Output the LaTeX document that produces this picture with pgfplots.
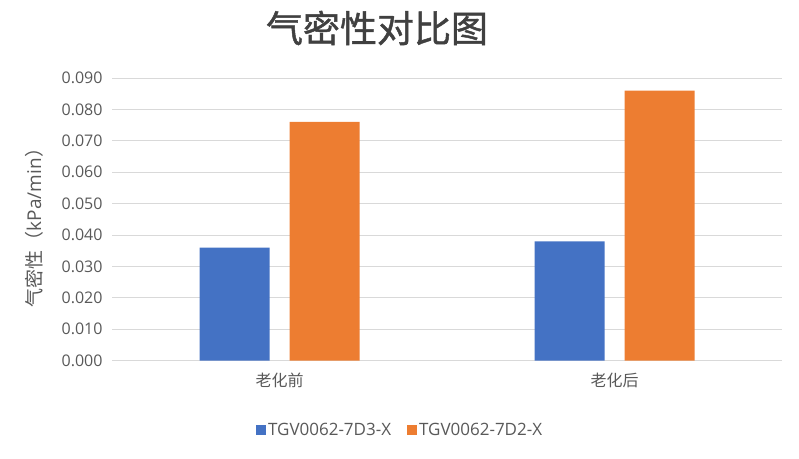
\documentclass[border=0pt]{standalone}
\usepackage{fontspec}
\setmainfont{Open Sans}
\newfontfamily\cjk{Noto Sans CJK SC}
\newfontfamily\cjkt{Noto Sans CJK SC}[FakeBold=1.2]
\usepackage{pgfplots}
\pgfplotsset{compat=1.18}
\definecolor{cblue}{HTML}{4472C4}
\definecolor{corange}{HTML}{ED7D31}
\definecolor{txt}{HTML}{595959}
\definecolor{grd}{HTML}{D9D9D9}
\begin{document}
\begin{tikzpicture}[x=1pt,y=1pt]
\path[use as bounding box] (0,0) rectangle (799,458);
\begin{axis}[
  at={(112pt,97.3pt)}, anchor=south west,
  scale only axis, width=670pt, height=282.7pt,
  xmin=-0.5, xmax=1.5, ymin=0, ymax=0.09,
  xtick={0,1}, xticklabels={{\cjk 老化前},{\cjk 老化后}},
  ytick={0,0.01,...,0.0901},
  scaled y ticks=false,
  yticklabel style={/pgf/number format/fixed, /pgf/number format/fixed zerofill, /pgf/number format/precision=3, xshift=-6pt},
  /pgf/number format/assume math mode=true,
  axis x line*=bottom, axis y line*=left,
  x axis line style={draw=grd,line width=1pt,-},
  y axis line style={draw=none},
  ymajorgrids, grid style={draw=grd,line width=1pt},
  major tick length=0pt,
  tick label style={font=\fontsize{16}{18}\selectfont, text=txt},
  xticklabel style={yshift=-9pt},
  ybar=20pt, bar width=70pt,
  legend style={at={(0.43,-0.245)}, anchor=center, draw=none, legend columns=2,
    font=\fontsize{17}{19}\selectfont, text=txt,
    /tikz/every even column/.append style={column sep=14pt}},
  legend image code/.code={\fill[#1] (0pt,-5pt) rectangle (10pt,5pt);},
]
\addplot[fill=cblue, draw=none] coordinates {(0,0.036) (1,0.038)};
\addplot[fill=corange, draw=none] coordinates {(0,0.076) (1,0.086)};
\legend{TGV0062-7D3-X,TGV0062-7D2-X}
\end{axis}
\node[rotate=90, font=\fontsize{19}{21}\selectfont, text=txt] at (34,235) {{\cjk 气密性（}kPa/min{\cjk ）}};
\node[font=\cjkt\fontsize{37}{40}\selectfont, text=black!75] at (377,430) {气密性对比图};
\end{tikzpicture}
\end{document}
